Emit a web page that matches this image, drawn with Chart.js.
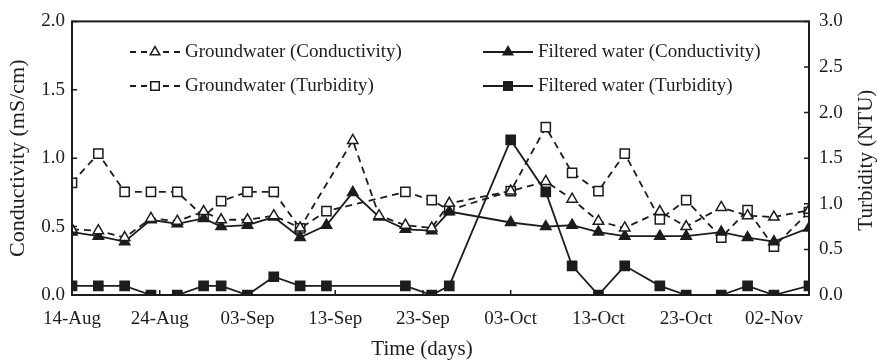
<!DOCTYPE html>
<html>
<head>
<meta charset="utf-8">
<script src="https://cdn.jsdelivr.net/npm/chart.js@4/dist/chart.umd.min.js"></script>
<style>
  html, body { margin: 0; padding: 0; background: #fff; }
</style>
</head>
<body>
<canvas id="chart" width="877" height="360"></canvas>
<script>
// x positions are days counted from 14-Aug
const tickLabels = ['14-Aug', '24-Aug', '03-Sep', '13-Sep', '23-Sep', '03-Oct', '13-Oct', '23-Oct', '02-Nov'];

const filteredCondDays = [0, 3, 6, 9, 12, 15, 17, 20, 23, 26, 29, 32, 35, 38, 41, 43, 50, 54, 57, 60, 63, 67, 70, 74, 77, 80, 84];
const filteredCond = [0.46, 0.43, 0.39, 0.55, 0.52, 0.56, 0.50, 0.51, 0.57, 0.42, 0.51, 0.75, 0.57, 0.48, 0.47, 0.61, 0.53, 0.50, 0.51, 0.46, 0.43, 0.43, 0.43, 0.46, 0.42, 0.39, 0.49];

const groundCondDays = [0, 3, 6, 9, 12, 15, 17, 20, 23, 26, 32, 35, 38, 41, 43, 50, 54, 57, 60, 63, 67, 70, 74, 77, 80, 84];
const groundCond = [0.48, 0.47, 0.42, 0.56, 0.54, 0.61, 0.55, 0.55, 0.58, 0.49, 1.13, 0.58, 0.51, 0.49, 0.67, 0.76, 0.83, 0.70, 0.54, 0.49, 0.61, 0.50, 0.64, 0.58, 0.57, 0.62];

const turbDays = [0, 3, 6, 9, 12, 15, 17, 20, 23, 26, 29, 38, 41, 43, 50, 54, 57, 60, 63, 67, 70, 74, 77, 80, 84];
const groundTurb = [1.23, 1.55, 1.13, 1.13, 1.13, 0.86, 1.03, 1.13, 1.13, 0.73, 0.92, 1.13, 1.04, 0.93, 1.14, 1.84, 1.34, 1.14, 1.55, 0.83, 1.04, 0.63, 0.93, 0.53, 0.91];
const filteredTurb = [0.1, 0.1, 0.1, 0, 0, 0.1, 0.1, 0, 0.2, 0.1, 0.1, 0.1, 0, 0.1, 1.7, 1.13, 0.32, 0, 0.32, 0.1, 0, 0, 0.1, 0, 0.1];

const INK = '#1c1c1c';
const FONT = "'Liberation Serif', 'Times New Roman', serif";

function toPoints(days, values) {
    return days.map((d, i) => ({ x: d, y: values[i] }));
}

function makeSeries(label, days, values, axis, pointStyle, filled, dashed) {
    return {
        label: label,
        data: toPoints(days, values),
        yAxisID: axis,
        borderColor: INK,
        borderWidth: 1.8,
        borderDash: dashed ? [7, 5] : [],
        pointStyle: pointStyle,
        pointRadius: pointStyle === 'rect' ? 6.5 : 6,
        pointBorderWidth: 1.5,
        pointBorderColor: INK,
        pointBackgroundColor: filled ? INK : '#fff',
        tension: 0,
        fill: false
    };
}

const datasets = [
    makeSeries('Groundwater (Conductivity)', groundCondDays, groundCond, 'y', 'triangle', false, true),
    makeSeries('Filtered water (Conductivity)', filteredCondDays, filteredCond, 'y', 'triangle', true, false),
    makeSeries('Groundwater (Turbidity)', turbDays, groundTurb, 'y1', 'rect', false, true),
    makeSeries('Filtered water (Turbidity)', turbDays, filteredTurb, 'y1', 'rect', true, false)
];

// legend slots inside the plot: two columns, two rows
const legendSlots = [
    { x: 130, y: 52 }, { x: 483, y: 52 },
    { x: 130, y: 86 }, { x: 483, y: 86 }
];

// box frame, inward tick marks, the in-plot legend and two titles
const frameAndLegend = {
    id: 'frameAndLegend',
    afterDraw(chart) {
        const { ctx, chartArea: a, scales } = chart;
        ctx.save();
        ctx.strokeStyle = INK;
        ctx.lineWidth = 2;
        ctx.setLineDash([]);
        ctx.strokeRect(a.left, a.top, a.right - a.left, a.bottom - a.top);

        ctx.lineWidth = 1.5;
        ctx.beginPath();
        scales.x.ticks.forEach(t => {
            const px = scales.x.getPixelForValue(t.value);
            ctx.moveTo(px, a.bottom);
            ctx.lineTo(px, a.bottom - 5);
        });
        scales.y.ticks.forEach(t => {
            const py = scales.y.getPixelForValue(t.value);
            ctx.moveTo(a.left, py);
            ctx.lineTo(a.left + 5, py);
        });
        scales.y1.ticks.forEach(t => {
            const py = scales.y1.getPixelForValue(t.value);
            ctx.moveTo(a.right, py);
            ctx.lineTo(a.right - 5, py);
        });
        ctx.stroke();

        // legend
        ctx.font = '19px ' + FONT;
        ctx.textBaseline = 'middle';
        ctx.textAlign = 'left';
        chart.data.datasets.forEach((ds, i) => {
            const s = legendSlots[i];
            ctx.strokeStyle = INK;
            ctx.lineWidth = 1.8;
            ctx.setLineDash(ds.borderDash.length ? [6, 5] : []);
            ctx.beginPath();
            ctx.moveTo(s.x, s.y);
            ctx.lineTo(s.x + 50, s.y);
            ctx.stroke();
            ctx.setLineDash([]);
            ctx.fillStyle = ds.pointBackgroundColor;
            ctx.lineWidth = 1.5;
            Chart.helpers.drawPoint(ctx, {
                pointStyle: ds.pointStyle,
                radius: ds.pointStyle === 'rect' ? 6 : 5.5,
                rotation: 0,
                borderWidth: 1.5
            }, s.x + 25, s.y);
            ctx.fillStyle = INK;
            ctx.fillText(ds.label, s.x + 55, s.y);
        });

        // x title (sits a little left of centre) and right title (reads upward)
        ctx.fillStyle = INK;
        ctx.textAlign = 'center';
        ctx.font = '21px ' + FONT;
        ctx.fillText('Time (days)', 422, 349);
        ctx.translate(866, (a.top + a.bottom) / 2 + 2);
        ctx.rotate(-Math.PI / 2);
        ctx.fillText('Turbidity (NTU)', 0, 0);
        ctx.restore();
    }
};

const ctx = document.getElementById('chart').getContext('2d');
new Chart(ctx, {
    type: 'line',
    data: { datasets: datasets },
    options: {
        responsive: false,
        animation: false,
        layout: { padding: { top: 20, left: 0, right: 0, bottom: 0 } },
        plugins: {
            legend: { display: false },
            tooltip: { enabled: false }
        },
        scales: {
            x: {
                type: 'linear',
                min: 0,
                max: 84,
                afterBuildTicks: scale => {
                    scale.ticks = tickLabels.map((_, i) => ({ value: i * 10 }));
                },
                afterFit: scale => { scale.height = 65; },
                grid: { display: false, drawTicks: false },
                border: { display: false },
                ticks: {
                    color: INK,
                    padding: 13,
                    maxRotation: 0,
                    font: { family: FONT, size: 19 },
                    callback: v => tickLabels[Math.round(v / 10)]
                }
            },
            y: {
                position: 'left',
                min: 0,
                max: 2,
                afterFit: scale => { scale.width = 72; },
                grid: { display: false, drawTicks: false },
                border: { display: false },
                ticks: {
                    stepSize: 0.5,
                    color: INK,
                    padding: 7,
                    font: { family: FONT, size: 19 },
                    callback: v => v.toFixed(1)
                },
                title: {
                    display: true,
                    text: 'Conductivity (mS/cm)',
                    color: INK,
                    font: { family: FONT, size: 22 },
                    padding: { top: 5, bottom: 0 }
                }
            },
            y1: {
                position: 'right',
                min: 0,
                max: 3,
                afterFit: scale => { scale.width = 68; },
                grid: { display: false, drawTicks: false },
                border: { display: false },
                ticks: {
                    stepSize: 0.5,
                    color: INK,
                    padding: 10,
                    font: { family: FONT, size: 19 },
                    callback: v => v.toFixed(1)
                }
            }
        }
    },
    plugins: [frameAndLegend]
});
</script>
</body>
</html>
